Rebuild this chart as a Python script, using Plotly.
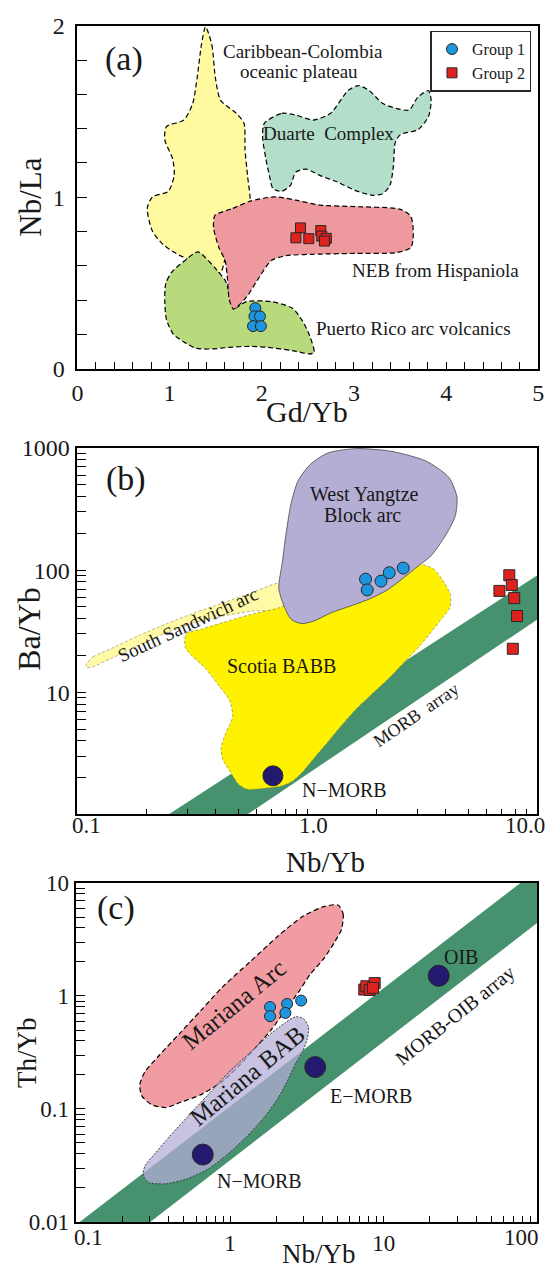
import plotly.graph_objects as go

FONT = "'Liberation Serif', 'Times New Roman', 'DejaVu Serif', serif"
W, H = 560, 1282
INK = "rgb(25,25,25)"

# ---------------- Panel (a): Nb/La vs Gd/Yb ----------------
a_carib_x = [1.39, 1.458, 1.496, 1.553, 1.723, 1.807, 1.818, 1.845, 1.875, 1.837, 1.648, 1.55, 1.40,
             1.117, 0.928, 0.814, 0.758, 0.814, 0.985, 1.049, 1.034, 0.947, 0.966, 1.155, 1.25, 1.299, 1.345]
a_carib_y = [1.994, 1.889, 1.698, 1.565, 1.489, 1.431, 1.279, 1.126, 0.973, 0.859, 0.744, 0.56, 0.60,
             0.658, 0.725, 0.802, 0.935, 1.002, 1.034, 1.126, 1.221, 1.336, 1.412, 1.450, 1.546, 1.698, 1.889]
a_duarte_x = [2.027, 2.216, 2.367, 2.557, 2.746, 2.936, 3.049, 3.163, 3.314, 3.466, 3.598, 3.693, 3.807, 3.837,
              3.807, 3.693, 3.504, 3.447, 3.428, 3.390, 3.314, 3.201, 3.011, 2.822, 2.633, 2.481, 2.367, 2.311,
              2.216, 2.121, 2.083, 2.045, 2.008]
a_duarte_y = [1.431, 1.489, 1.479, 1.450, 1.489, 1.622, 1.651, 1.622, 1.546, 1.517, 1.508, 1.584, 1.622, 1.565,
              1.469, 1.393, 1.365, 1.317, 1.183, 1.069, 1.021, 1.011, 1.040, 1.088, 1.126, 1.164, 1.145, 1.069,
              1.034, 1.050, 1.126, 1.221, 1.355]
a_neb_x = [1.496, 1.686, 1.875, 2.140, 2.367, 2.633, 3.011, 3.504, 3.617, 3.644, 3.617, 3.466, 3.011, 2.633,
           2.254, 2.102, 1.951, 1.837, 1.693, 1.648, 1.629, 1.602, 1.534, 1.477, 1.481]
a_neb_y = [0.897, 0.935, 0.977, 1.002, 0.983, 0.954, 0.945, 0.929, 0.887, 0.782, 0.706, 0.677, 0.672, 0.668,
           0.658, 0.630, 0.515, 0.420, 0.347, 0.401, 0.515, 0.630, 0.706, 0.821, 0.878]
a_pr_x = [1.307, 1.420, 1.515, 1.602, 1.655, 1.705, 1.837, 2.102, 2.330, 2.443, 2.519, 2.568, 2.519, 2.330,
          2.064, 1.875, 1.648, 1.458, 1.288, 1.155, 1.042, 0.966, 0.947, 0.958, 1.023, 1.155]
a_pr_y = [0.681, 0.630, 0.573, 0.515, 0.429, 0.353, 0.391, 0.391, 0.353, 0.277, 0.191, 0.095, 0.086, 0.105,
          0.124, 0.130, 0.124, 0.115, 0.118, 0.156, 0.200, 0.286, 0.401, 0.496, 0.563, 0.626]
a_g1_x = [1.93, 1.92, 1.98, 1.905, 1.99]
a_g1_y = [0.353, 0.305, 0.305, 0.248, 0.248]
a_g2_x = [2.42, 2.37, 2.51, 2.64, 2.65, 2.70, 2.68]
a_g2_y = [0.821, 0.763, 0.758, 0.805, 0.773, 0.760, 0.744]
a_xticks = [round(0.2 * i, 1) for i in range(26)]
a_xlabels = {0: "0", 1: "1", 2: "2", 3: "3", 4: "4", 5: "5"}
a_yticks = [round(0.2 * i, 1) for i in range(11)]
a_ylabels = {0: "0", 1: "1", 2: "2"}

# ---------------- Panel (b): Ba/Yb vs Nb/Yb ----------------
b_wyb_x = [0.751, 0.778, 0.805, 0.849, 0.912, 1.03, 1.23, 1.63, 2.31, 3.28, 4.12, 4.47, 4.39, 3.97, 3.45,
           3.05, 2.65, 2.23, 1.87, 1.57, 1.27, 1.07, 0.944, 0.849, 0.792]
b_wyb_y = [71.0, 116, 190, 351, 541, 735, 912, 988, 940, 782, 575, 397, 275, 190, 131,
           109, 88, 68.9, 58.3, 51.5, 44.8, 38.4, 36.5, 39.6, 50.6]
b_scotia_x = [3.05, 3.52, 3.91, 4.19, 4.16, 3.77, 3.40, 3.05, 2.65, 2.23, 1.87, 1.63, 1.41, 1.23, 1.07, 0.960,
              0.864, 0.778, 0.653, 0.548, 0.502, 0.460, 0.429, 0.421, 0.444, 0.473, 0.460, 0.414, 0.360, 0.313,
              0.294, 0.297, 0.347, 0.429, 0.568, 0.751, 1.15, 2.31]
b_scotia_y = [113, 103, 80.4, 62.9, 49.1, 38.4, 30.0, 23.5, 17.8, 12.7, 9.33, 7.30, 5.36, 3.94, 2.90, 2.26,
              1.88, 1.72, 1.64, 1.61, 1.77, 2.26, 2.81, 3.49, 4.74, 6.25, 8.50, 11.2, 15.7, 20.1,
              23.5, 30.0, 32.9, 37.2, 43.4, 49.1, 71.0, 116]
b_ssa_x = [0.109, 0.117, 0.140, 0.185, 0.245, 0.324, 0.429, 0.568, 0.764, 0.778, 0.568, 0.429, 0.324, 0.245,
           0.185, 0.140, 0.117, 0.110]
b_ssa_y = [16.7, 19.5, 22.7, 29.1, 36.5, 44.8, 53.8, 64.7, 77.8, 49.1, 46.1, 42.1, 37.2, 30.9,
           24.2, 18.9, 16.2, 15.9]
b_morb_x = [0.249, 10.0, 10.0, 0.548]
b_morb_y = [1.0, 90.8, 39.5, 1.0]
b_nmorb_x = [0.708]
b_nmorb_y = [2.07]
b_g1_x = [1.79, 1.82, 2.09, 2.27, 2.61]
b_g1_y = [84.3, 68.9, 81.3, 95.3, 104]
b_g2_x = [7.55, 7.74, 6.84, 7.93, 8.16, 7.82]
b_g2_y = [90.8, 75.5, 67.6, 59.0, 42.1, 22.7]
b_xticks = [0.1, 0.2, 0.3, 0.4, 0.5, 0.6, 0.7, 0.8, 0.9, 1, 2, 3, 4, 5, 6, 7, 8, 9, 10]
b_xlabels = {}
b_yticks = [1, 2, 3, 4, 5, 6, 7, 8, 9, 10, 20, 30, 40, 50, 60, 70, 80, 90, 100,
            200, 300, 400, 500, 600, 700, 800, 900, 1000]
b_ylabels = {10: "10", 100: "100", 1000: "1000"}

# ---------------- Panel (c): Th/Yb vs Nb/Yb ----------------
c_band_x = [0.105, 77.6, 100, 100, 0.302]
c_band_y = [0.01, 10, 10, 4.44, 0.01]
c_arc_x = [5.04, 5.44, 5.31, 4.78, 4.08, 3.31, 2.82, 2.29, 1.85, 1.50, 1.15, 0.887, 0.647, 0.472, 0.383,
           0.310, 0.267, 0.258, 0.279, 0.344, 0.472, 0.647, 0.887, 1.35, 2.06, 2.98, 4.08]
c_arc_y = [6.38, 5.35, 3.89, 2.99, 2.15, 1.54, 1.11, 0.746, 0.502, 0.361, 0.243, 0.174, 0.134, 0.114, 0.103,
           0.109, 0.130, 0.163, 0.213, 0.296, 0.470, 0.746, 1.19, 2.01, 3.41, 5.07, 6.18]
c_bab_x = [2.68, 3.01, 3.24, 3.17, 2.94, 2.68, 2.41, 2.06, 1.67, 1.28, 0.986, 0.719, 0.525, 0.383, 0.297,
           0.272, 0.279, 0.327, 0.403, 0.525, 0.719, 0.986, 1.35, 1.76, 2.29]
c_bab_y = [0.655, 0.629, 0.529, 0.412, 0.316, 0.256, 0.187, 0.126, 0.0845, 0.0568, 0.0408, 0.0294, 0.0241,
           0.0218, 0.0223, 0.0257, 0.0313, 0.0408, 0.0569, 0.0845, 0.134, 0.213, 0.316, 0.441, 0.581]
c_ref_x = [0.664, 3.58, 22.8]      # N-MORB, E-MORB, OIB
c_ref_y = [0.0395, 0.235, 1.51]
c_g1_x = [1.82, 1.82, 2.35, 2.29, 2.90]
c_g1_y = [0.798, 0.663, 0.851, 0.708, 0.910]
c_g2_x = [7.47, 7.71, 8.73, 8.11, 8.51]
c_g2_y = [1.14, 1.22, 1.30, 1.13, 1.18]
c_xticks = [0.1, 0.2, 0.3, 0.4, 0.5, 0.6, 0.7, 0.8, 0.9, 1, 2, 3, 4, 5, 6, 7, 8, 9, 10,
            20, 30, 40, 50, 60, 70, 80, 90, 100]
c_xlabels = {1: "1", 10: "10"}
c_yticks = [0.01, 0.02, 0.03, 0.04, 0.05, 0.06, 0.07, 0.08, 0.09, 0.1, 0.2, 0.3, 0.4, 0.5, 0.6, 0.7, 0.8, 0.9,
            1, 2, 3, 4, 5, 6, 7, 8, 9, 10]
c_ylabels = {0.01: "0.01", 0.1: "0.1", 1: "1", 10: "10"}

# colours
YEL_A = "rgb(255,249,160)"
TEAL_A = "rgb(179,222,202)"
PINK_A = "rgb(237,153,158)"
GREEN_A = "rgb(184,218,124)"
G1 = "rgb(29,150,222)"
G2 = "rgb(222,34,30)"
PURPLE = "rgb(180,173,212)"
YEL_B = "rgb(255,242,0)"
LTYEL_B = "rgb(255,250,165)"
BAND = "rgb(70,145,110)"
NAVY = "rgb(35,25,110)"
PINK_C = "rgb(240,156,162)"
BAB_C = "rgba(180,173,214,0.73)"

fig = go.Figure()


def poly(x, y, fill, lc, dash, lw, xa, ya, smooth=True):
    xs = list(x) + [x[0]]
    ys = list(y) + [y[0]]
    fig.add_trace(go.Scatter(
        x=xs, y=ys, mode="lines", fill="toself", fillcolor=fill,
        line=dict(color=lc, width=lw, dash=dash, shape="spline" if smooth else "linear", smoothing=0.7),
        xaxis=xa, yaxis=ya, showlegend=False, hoverinfo="skip"))


def pts(x, y, sym, color, size, xa, ya, name=None, legend=False, lw=1):
    fig.add_trace(go.Scatter(
        x=x, y=y, mode="markers", name=name, showlegend=legend,
        marker=dict(symbol=sym, color=color, size=size, line=dict(color="rgb(40,40,40)", width=lw)),
        xaxis=xa, yaxis=ya, hoverinfo="skip"))


# panel a
DASH = "5px,3px"
poly(a_carib_x, a_carib_y, YEL_A, "black", DASH, 1.2, "x", "y")
poly(a_pr_x, a_pr_y, GREEN_A, "black", DASH, 1.2, "x", "y")
poly(a_duarte_x, a_duarte_y, TEAL_A, "black", DASH, 1.2, "x", "y")
poly(a_neb_x, a_neb_y, PINK_A, "black", DASH, 1.2, "x", "y")
pts(a_g1_x, a_g1_y, "circle", G1, 11, "x", "y", "Group 1", True)
pts(a_g2_x, a_g2_y, "square", G2, 10, "x", "y", "Group 2", True)

# panel b
poly(b_morb_x, b_morb_y, BAND, BAND, "solid", 0, "x2", "y2", smooth=False)
poly(b_ssa_x, b_ssa_y, LTYEL_B, "rgb(150,150,110)", "3px,2px", 0.7, "x2", "y2")
poly(b_scotia_x, b_scotia_y, YEL_B, "rgb(150,140,60)", "3px,2px", 0.7, "x2", "y2")
poly(b_wyb_x, b_wyb_y, PURPLE, "rgb(70,70,70)", "solid", 0.8, "x2", "y2")
pts(b_g1_x, b_g1_y, "circle", G1, 12, "x2", "y2")
pts(b_g2_x, b_g2_y, "square", G2, 11, "x2", "y2")
pts(b_nmorb_x, b_nmorb_y, "circle", NAVY, 20, "x2", "y2")

# panel c
poly(c_band_x, c_band_y, BAND, BAND, "solid", 0, "x3", "y3", smooth=False)
poly(c_arc_x, c_arc_y, PINK_C, "black", DASH, 1.2, "x3", "y3")
poly(c_bab_x, c_bab_y, BAB_C, "rgb(60,60,60)", "2px,1.5px", 1, "x3", "y3")
pts(c_ref_x, c_ref_y, "circle", NAVY, 21, "x3", "y3")
pts(c_g1_x, c_g1_y, "circle", G1, 11, "x3", "y3")
pts(c_g2_x, c_g2_y, "square", G2, 11, "x3", "y3")


def ticktext(vals, labels):
    return [labels.get(v, "") for v in vals]


def axis(domain, anchor, rng, tickvals, tt, ticklen, fsize, standoff, typ="linear"):
    return dict(domain=domain, anchor=anchor, range=rng, type=typ, tickmode="array",
                tickvals=tickvals, ticktext=tt, ticks="inside", ticklen=ticklen, tickwidth=1.3,
                tickcolor="black", showline=True, linecolor="black", linewidth=1.6, mirror=True,
                showgrid=False, zeroline=False, tickfont=dict(family=FONT, size=fsize, color=INK),
                ticklabelstandoff=standoff)


def dx(p):
    return p / W


def dy(p):
    return 1 - p / H


fig.update_layout(
    width=W, height=H, margin=dict(l=0, r=0, t=0, b=0),
    paper_bgcolor="white", plot_bgcolor="white",
    font=dict(family=FONT, color=INK),
    xaxis=axis([dx(73), dx(544)], "y", [0, 5], a_xticks, ticktext(a_xticks, a_xlabels), 7, 24, 2),
    yaxis=axis([dy(363), dy(13)], "x", [0, 2], a_yticks, ticktext(a_yticks, a_ylabels), 10, 24, 6),
    xaxis2=axis([dx(73), dx(543)], "y2", [-1, 1], b_xticks, ticktext(b_xticks, b_xlabels), 6, 23, 0, "log"),
    yaxis2=axis([dy(818), dy(444)], "x2", [0, 3], b_yticks, ticktext(b_yticks, b_ylabels), 9, 24, 1, "log"),
    xaxis3=axis([dx(72), dx(543)], "y3", [-1, 2], c_xticks, ticktext(c_xticks, c_xlabels), 6, 23, 0, "log"),
    yaxis3=axis([dy(1234), dy(888)], "x3", [-2, 1], c_yticks, ticktext(c_yticks, c_ylabels), 9, 23, 1, "log"),
    legend=dict(x=dx(537), y=dy(18), xanchor="right", yanchor="top", bordercolor="rgb(40,40,40)",
                borderwidth=1.5, bgcolor="white", font=dict(family=FONT, size=16, color=INK),
                itemwidth=30, tracegroupgap=0),
)

# text labels: (text, px_x, px_y, size, angle)
labels = [
    ("(a)", 121, 47, 34, 0),
    ("Caribbean-Colombia", 303, 39, 19, 0),
    ("oceanic plateau", 299, 60, 19, 0),
    ("Duarte  Complex", 330, 123, 19, 0),
    ("NEB from Hispaniola", 439, 263, 19, 0),
    ("Puerto Rico arc volcanics", 416, 322, 19, 0),
    ("(b)", 123, 476, 34, 0),
    ("West Yangtze", 366, 491, 20, 0),
    ("Block arc", 364, 512, 20, 0),
    ("Scotia BABB", 282, 667, 20, 0),
    ("South Sandwich arc", 186, 624, 19, -24.9),
    ("MORB  array", 419, 717, 18, -34.4),
    ("N\u2212MORB", 346, 793, 20, 0),
    ("(c)", 112, 914, 34, 0),
    ("Mariana Arc", 233, 1012, 25, -39.4),
    ("Mariana BAB", 247, 1085, 25, -39.7),
    ("OIB", 465, 964, 20, 0),
    ("MORB-OIB array", 459, 1023, 20, -38.6),
    ("E\u2212MORB", 373, 1105, 20, 0),
    ("N\u2212MORB", 259, 1192, 20, 0),
    # axis titles
    ("Gd/Yb", 308, 407, 30, 0),
    ("Nb/La", 25, 188, 31, -90),
    ("Ba/Yb", 24, 628, 32, -90),
    ("Nb/Yb", 326, 867, 29, 0),
    ("Th/Yb", 22, 1061, 27, -90),
    ("Nb/Yb", 320, 1267, 27, 0),
    # x tick labels of panel (b) and shifted end labels of panel (c)
    ("0.1", 82, 829, 23, 0),
    ("1.0", 314, 829, 23, 0),
    ("10.0", 530, 829, 23, 0),
    ("0.1", 84, 1250, 23, 0),
    ("100", 527, 1250, 23, 0),
]
for t, x, y, s, ang in labels:
    fig.add_annotation(text=t, x=dx(x), y=dy(y), xref="paper", yref="paper", showarrow=False,
                       xanchor="center", yanchor="middle", textangle=ang,
                       font=dict(family=FONT, size=s, color=INK))

fig.write_html("out.html")
